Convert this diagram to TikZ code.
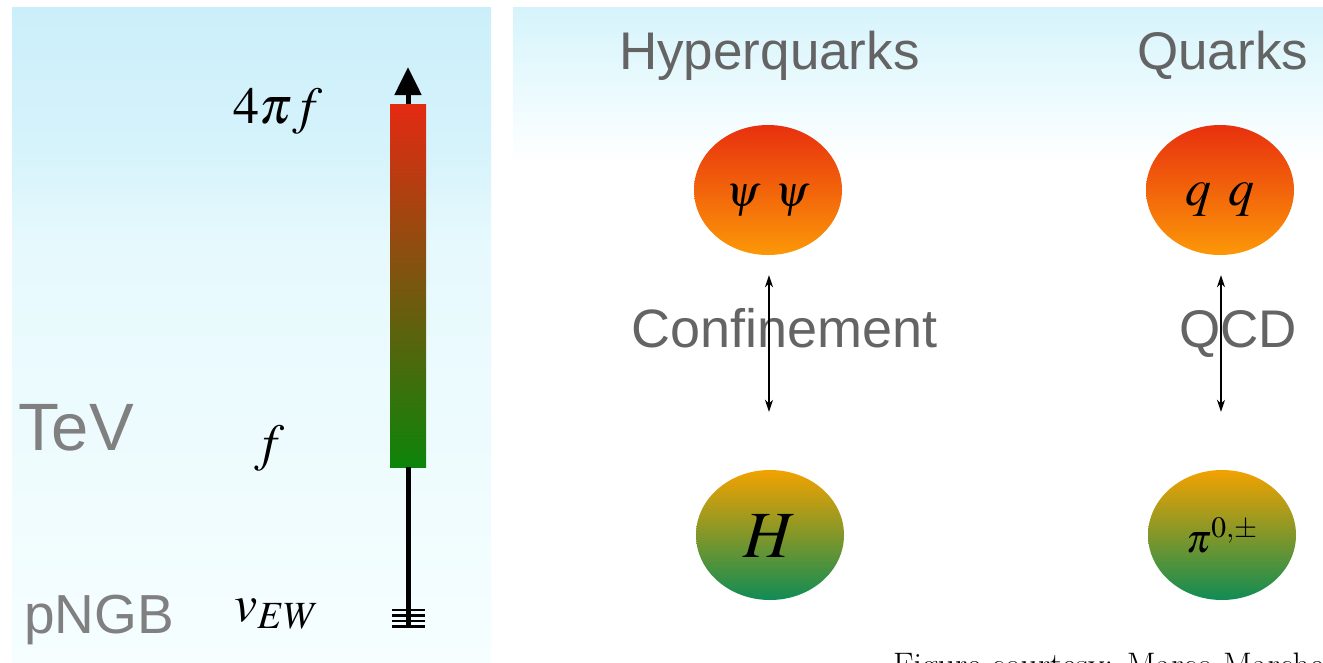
\documentclass[tikz,border=0pt]{standalone}
\usepackage{mathptmx}
\usepackage{fontspec}
\newfontfamily\lsans{Liberation Sans}
\usetikzlibrary{shapes.geometric,arrows.meta}
\definecolor{skyA}{RGB}{203,239,250}
\definecolor{skyB}{RGB}{214,243,251}
\definecolor{skyC}{RGB}{230,249,253}
\definecolor{skyD}{RGB}{246,254,255}
\definecolor{barTop}{RGB}{228,42,18}
\definecolor{barMid}{RGB}{130,80,18}
\definecolor{barBot}{RGB}{12,132,10}
\definecolor{hotTop}{RGB}{232,48,14}
\definecolor{hotBot}{RGB}{252,152,8}
\definecolor{coolTop}{RGB}{242,162,0}
\definecolor{coolMid}{RGB}{135,150,40}
\definecolor{coolBot}{RGB}{16,140,84}
\definecolor{txtA}{RGB}{128,128,128}
\definecolor{txtB}{RGB}{100,100,100}
\pgfdeclareverticalshading{leftsky}{100bp}{color(0bp)=(skyD); color(25bp)=(skyD); color(57bp)=(skyC); color(64bp)=(skyB); color(75bp)=(skyA); color(100bp)=(skyA)}
\pgfdeclareverticalshading{rightsky}{100bp}{color(0bp)=(white); color(25bp)=(white); color(63bp)=(white); color(70bp)=(skyC); color(75bp)=(skyB); color(100bp)=(skyB)}
\tikzset{
  x=1pt, y=1pt,
  graylbl/.style={inner sep=0, text=txtA, font=\lsans\fontsize{67}{72}\selectfont},
  headlbl/.style={inner sep=0, text=txtB, font=\lsans\fontsize{53}{60}\selectfont},
  mathlbl/.style={inner sep=0, font=\fontsize{52}{58}\selectfont},
  balltxt/.style={inner sep=0, anchor=base},
  hotball/.style={ellipse, minimum width=148pt, minimum height=130pt, inner sep=0,
     top color=hotTop, bottom color=hotBot},
  coolball/.style={ellipse, minimum width=148pt, minimum height=130pt, inner sep=0,
     top color=coolTop, middle color=coolMid, bottom color=coolBot},
  linkarrow/.style={line width=1.4pt, {Stealth[length=12pt,width=8pt]}-{Stealth[length=12pt,width=8pt]}},
  tick/.style={line width=2.6pt}
}
\begin{document}
\begin{tikzpicture}
\useasboundingbox (0,0) rectangle (1323,-662);
\fill[white] (0,0) rectangle (1323,-662);
% panel backgrounds
\shade[shading=leftsky] (12,-7) rectangle (491,-662);
\shade[shading=rightsky] (513,-7) rectangle (1323,-662);

% left panel labels
\node[graylbl, anchor=base west] (tev) at (18,-450) {TeV};
\node[graylbl, anchor=base west, font=\lsans\fontsize{55}{60}\selectfont] (pngb) at (24,-633) {pNGB};
\node[mathlbl, anchor=base] (fpi) at (278,-123) {$4\pi f$};
\node[mathlbl, anchor=base] (fscale) at (270,-460) {$f$};
\node[mathlbl, anchor=base west] (vew) at (234,-621) {$v_{EW}$};

% scale bar
\node[minimum width=36pt, minimum height=363pt, inner sep=0, draw=none,
      top color=barTop, middle color=barMid, bottom color=barBot] (bar) at (408,-285.5) {};
\coordinate (tip) at (408,-67);
\coordinate (base) at (408,-627);
\draw[line width=5pt, -{Triangle[length=28pt,width=26pt]}] (bar.north) -- (tip);
\draw[line width=5pt] (bar.south) -- (base);
\foreach \yy in {610,615.5,621,626.5}
  \draw[tick] (392,-\yy) -- (425,-\yy);

% right panel headings
\node[headlbl, anchor=base west] (hyper) at (619,-69) {Hyperquarks};
\node[headlbl, anchor=base west] (quarks) at (1137,-69) {Quarks};

% balls
\node[hotball] (psi) at (768,-190) {};
\node[hotball] (qq) at (1220,-190) {};
\node[coolball] (H) at (770,-535) {};
\node[coolball] (pi) at (1222,-535) {};
\node[balltxt, font=\fontsize{44}{50}\selectfont] (psitxt) at ([yshift=-16pt]psi.center) {$\psi\;\,\psi$};
\node[balltxt, font=\fontsize{52}{58}\selectfont] (qqtxt) at ([yshift=-15pt]qq.center) {$q\;\,q$};
\node[balltxt, font=\fontsize{66}{72}\selectfont] (Htxt) at ([yshift=-22pt]H.center) {$H$};
\node[balltxt, font=\fontsize{40}{46}\selectfont] (pitxt) at ([yshift=-17pt]pi.center) {$\pi^{0,\pm}$};

% middle labels
\node[headlbl, anchor=base west, font=\lsans\fontsize{54}{60}\selectfont] (conf) at (631,-347) {Confinement};
\node[headlbl, anchor=base west] (qcd) at (1179,-347) {QCD};

% double arrows
\draw[linkarrow] ([xshift=1pt,yshift=-20pt]psi.south) -- ([xshift=-1pt,yshift=58pt]H.north);
\draw[linkarrow] ([xshift=1pt,yshift=-20pt]qq.south) -- ([xshift=-1pt,yshift=58pt]pi.north);

% credit
\node[inner sep=0, anchor=base west, font=\fontsize{34}{38}\selectfont] (credit) at (893,-676) {Figure courtesy: Marco Marche};
\end{tikzpicture}
\end{document}
